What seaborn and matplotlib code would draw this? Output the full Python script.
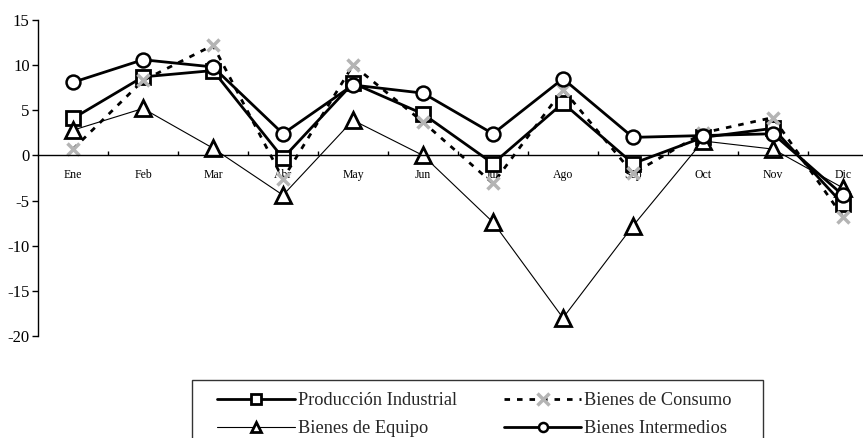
import numpy as np
import pandas as pd
import matplotlib
matplotlib.use("Agg")
import matplotlib.pyplot as plt
from matplotlib.patches import Rectangle
import seaborn as sns

months = ["Ene", "Feb", "Mar", "Abr", "May", "Jun", "Jul", "Ago", "Sep", "Oct", "Nov", "Dic"]
prod_industrial = [4.1, 8.7, 9.4, -0.3, 8.0, 4.6, -0.9, 5.8, -0.9, 2.0, 3.0, -5.4]
bienes_consumo = [0.7, 8.3, 12.2, -2.6, 10.0, 3.7, -3.1, 7.3, -2.0, 2.5, 4.2, -6.8]
bienes_equipo = [2.8, 5.2, 0.8, -4.4, 3.9, 0.0, -7.4, -18.0, -7.8, 1.6, 0.7, -3.6]
bienes_intermedios = [8.1, 10.6, 9.8, 2.4, 7.8, 6.9, 2.4, 8.5, 2.0, 2.2, 2.4, -4.4]
yticks = [15, 10, 5, 0, -5, -10, -15, -20]

sns.set_style("white")
plt.rcParams["font.family"] = ["Liberation Serif", "DejaVu Serif"]

W, H = 863, 438
fig = plt.figure(figsize=(W / 100, H / 100), dpi=100)
ax = fig.add_axes([38 / W, 1 - 336 / H, 840 / W, 316 / H])

x = np.arange(len(months))
series = [
    ("Producción Industrial", prod_industrial,
     dict(color="black", lw=2.0, ls="-", marker="s", ms=10, mfc="white", mec="black", mew=2.0)),
    ("Bienes de Consumo", bienes_consumo,
     dict(color="black", lw=2.0, ls=(0, (2.0, 2.5)), marker="x", ms=9, mfc="none", mec="#b4b4b4", mew=2.5)),
    ("Bienes de Equipo", bienes_equipo,
     dict(color="black", lw=0.8, ls="-", marker="^", ms=11, mfc="white", mec="black", mew=2.0)),
    ("Bienes Intermedios", bienes_intermedios,
     dict(color="black", lw=2.0, ls="-", marker="o", ms=10, mfc="white", mec="black", mew=1.8)),
]
for name, vals, kw in series:
    df = pd.DataFrame({"x": x, "y": vals})
    sns.lineplot(data=df, x="x", y="y", ax=ax, label=name, legend=False, **kw)

ax.set_xlim(-0.5, 11.5)
ax.set_ylim(-20, 15)
ax.set_yticks(yticks)
ax.set_yticklabels([str(v) for v in yticks])
ax.set_xticks(x)
ax.set_xticklabels(months)
ax.set_xticks(np.arange(0.5, 11.6, 1.0), minor=True)
ax.set_xlabel("")
ax.set_ylabel("")

for s in ["top", "right"]:
    ax.spines[s].set_visible(False)
ax.spines["bottom"].set_position(("data", 0))
ax.spines["left"].set_color("black")
ax.spines["bottom"].set_color("black")
ax.spines["left"].set_linewidth(1.0)
ax.spines["bottom"].set_linewidth(1.0)

ax.tick_params(axis="y", which="major", left=True, direction="out", length=4, width=1,
               labelsize=12, pad=2, colors="black")
ax.tick_params(axis="x", which="major", bottom=True, length=0, labelsize=8.5, pad=10, colors="black")
ax.tick_params(axis="x", which="minor", bottom=True, direction="in", length=3, width=1, color="black")

# legend frame (figure coordinates)
fig.patches.append(Rectangle((192 / W, 1 - 446 / H), (763 - 192) / W, (446 - 380) / H,
                             transform=fig.transFigure, fill=False, edgecolor="#333333",
                             linewidth=1.0, zorder=0))

handles, labels = ax.get_legend_handles_labels()
order = [0, 2, 1, 3]
leg = fig.legend([handles[i] for i in order], [labels[i] for i in order], ncol=2, loc="upper left",
                 bbox_to_anchor=(217 / W, 1 - 392 / H), frameon=False,
                 fontsize=13.2, handlelength=4.25, handletextpad=0.15,
                 columnspacing=2.55, borderpad=0, labelspacing=0.6, borderaxespad=0,
                 markerscale=0.65)
# larger cross marker in the legend, as in the reference
leg.legend_handles[2].set_markersize(9)

fig.savefig("out.png", dpi=100)
